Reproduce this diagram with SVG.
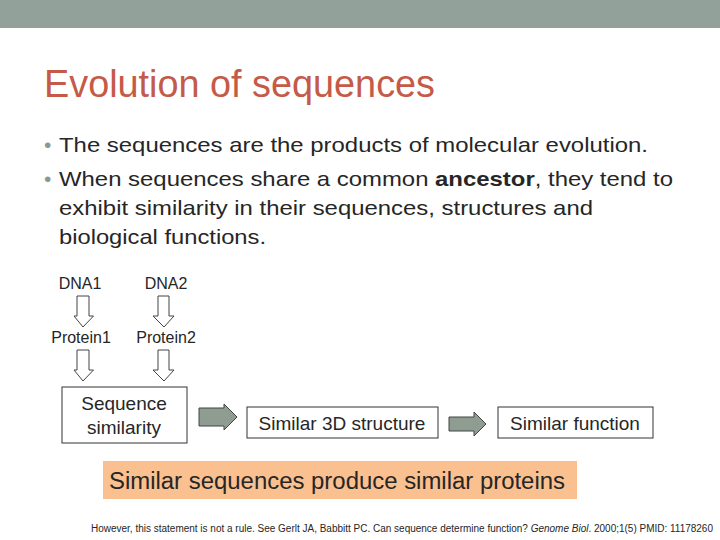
<svg xmlns="http://www.w3.org/2000/svg" width="720" height="540" viewBox="0 0 720 540">
<style>
text{font-family:"Liberation Sans",Arial,sans-serif;fill:#262626}
.b{font-size:21px}
.dot{fill:#8a9a92}
.lbl{font-size:16px;text-anchor:middle}
.box{fill:#fff;stroke:#333;stroke-width:1}
.bt{font-size:19px;text-anchor:middle}
.ho{fill:#fff;stroke:#444;stroke-width:1}
.ga{fill:#8f9c92;stroke:#444;stroke-width:1}
</style>
<rect x="0" y="0" width="720" height="540" fill="#fff"/>
<rect x="0" y="0" width="720" height="28" fill="#92a199"/>
<text x="44" y="97" font-size="39" style="fill:#c55a48" textLength="391" lengthAdjust="spacingAndGlyphs">Evolution of sequences</text>
<text x="44" y="152" class="b dot">•</text>
<text x="59" y="152" class="b" textLength="589" lengthAdjust="spacingAndGlyphs">The sequences are the products of molecular evolution.</text>
<text x="44" y="186" class="b dot">•</text>
<text x="59" y="186" class="b" textLength="614" lengthAdjust="spacingAndGlyphs">When sequences share a common <tspan font-weight="bold">ancestor</tspan>, they tend to</text>
<text x="59" y="215" class="b" textLength="534" lengthAdjust="spacingAndGlyphs">exhibit similarity in their sequences, structures and</text>
<text x="59" y="244" class="b" textLength="207" lengthAdjust="spacingAndGlyphs">biological functions.</text>
<g id="dna1"><text x="80" y="289" class="lbl">DNA1</text></g>
<g id="dna2"><text x="166" y="289" class="lbl">DNA2</text></g>
<g id="protein1"><text x="81" y="343" class="lbl">Protein1</text></g>
<g id="protein2"><text x="166" y="343" class="lbl">Protein2</text></g>
<g id="seqsim"><rect x="62" y="387" width="125" height="56" class="box"/><text x="124" y="410" class="bt">Sequence</text><text x="124" y="434" class="bt">similarity</text></g>
<g id="struct"><rect x="247" y="407" width="191" height="31" class="box"/><text x="342" y="430" class="bt">Similar 3D structure</text></g>
<g id="func"><rect x="498" y="407" width="155" height="31" class="box"/><text x="575" y="430" class="bt">Similar function</text></g>
<g id="connectors">
<path class="ho" d="M77 296H89V316H93.5L83 327L74 316H77Z"/>
<path class="ho" d="M158 296H169V316H174L164 327L153 316H158Z"/>
<path class="ho" d="M77 350H89V370H93.5L83 381L74 370H77Z"/>
<path class="ho" d="M158 350H169V370H174L164 381L153 370H158Z"/>
<path class="ga" d="M199 408H224V404L237 417L224 430V426H199Z"/>
<path class="ga" d="M449 417H474V412L486 424L474 436V431H449Z"/>
</g>
<g id="summary"><rect x="103" y="461" width="474" height="38" fill="#fac090"/><text x="109" y="489" font-size="23" textLength="456" lengthAdjust="spacingAndGlyphs">Similar sequences produce similar proteins</text></g>
<text x="91" y="532" font-size="10" textLength="622" lengthAdjust="spacingAndGlyphs">However, this statement is not a rule. See Gerlt JA, Babbitt PC. Can sequence determine function? <tspan font-style="italic">Genome Biol</tspan>. 2000;1(5) PMID: 11178260</text>
</svg>
